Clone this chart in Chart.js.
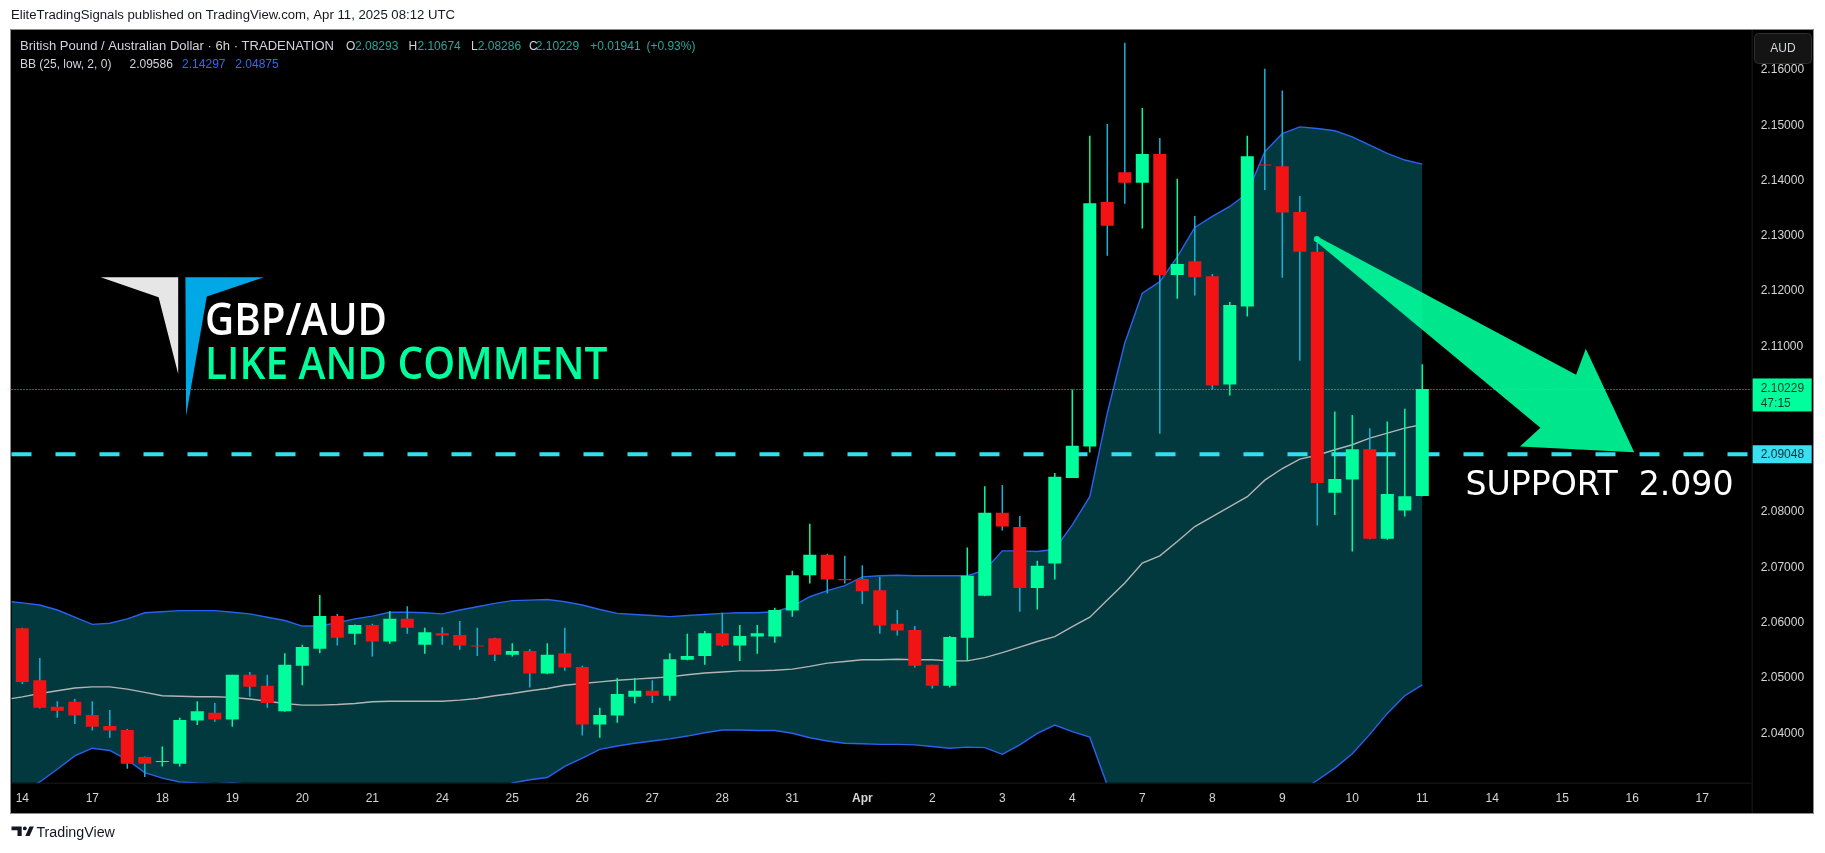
<!DOCTYPE html>
<html>
<head>
<meta charset="utf-8">
<script src="https://cdn.jsdelivr.net/npm/chart.js@4.4.1/dist/chart.umd.min.js"></script>
<style>
  html, body { margin: 0; padding: 0; background: #fff; overflow: hidden; }
</style>
</head>
<body>
<canvas id="gbpaud" width="1825" height="853"></canvas>
<script>
// GBP/AUD 6h candles, index 0 = first bar of the 14th
const opens = [
  2.0590, 2.0496, 2.0448, 2.0457, 2.0433, 2.0413, 2.0406, 2.0357, 2.0348, 2.0345,
  2.0423, 2.0437, 2.0425, 2.0506, 2.0486, 2.0440, 2.0522, 2.0553, 2.0612, 2.0580,
  2.0596, 2.0566, 2.0607, 2.0560, 2.0581, 2.0578, 2.0559, 2.0572, 2.0542, 2.0549,
  2.0508, 2.0545, 2.0520, 2.0416, 2.0432, 2.0466, 2.0477, 2.0468, 2.0533, 2.0540,
  2.0581, 2.0559, 2.0575, 2.0575, 2.0622, 2.0686, 2.0723, 2.0679, 2.0679, 2.0659,
  2.0598, 2.0587, 2.0524, 2.0486, 2.0573, 2.0649, 2.0799, 2.0773, 2.0663, 2.0707,
  2.0862, 2.0919, 2.1361, 2.1415, 2.1396, 2.1448, 2.1229, 2.1254, 2.1227, 2.1031,
  2.1172, 2.1429, 2.1426, 2.1343, 2.1271, 2.0835, 2.0859, 2.0914, 2.0752, 2.0803,
  2.08293
];
const highs = [
  2.0591, 2.0536, 2.0458, 2.0462, 2.0458, 2.0442, 2.0408, 2.0358, 2.0376, 2.0428,
  2.0458, 2.0455, 2.0506, 2.0511, 2.0506, 2.0545, 2.0560, 2.0650, 2.0616, 2.0597,
  2.0598, 2.0621, 2.0630, 2.0591, 2.0592, 2.0603, 2.0591, 2.0573, 2.0563, 2.0552,
  2.0563, 2.0591, 2.0522, 2.0446, 2.0500, 2.0500, 2.0496, 2.0545, 2.0580, 2.0585,
  2.0618, 2.0596, 2.0596, 2.0627, 2.0694, 2.0779, 2.0725, 2.0721, 2.0704, 2.0683,
  2.0623, 2.0594, 2.0524, 2.0576, 2.0736, 2.0847, 2.0849, 2.0793, 2.0712, 2.0871,
  2.1022, 2.1481, 2.1502, 2.1649, 2.1531, 2.1477, 2.1403, 2.1336, 2.1231, 2.1180,
  2.1481, 2.1602, 2.1563, 2.1372, 2.1298, 2.0982, 2.0976, 2.0952, 2.0964, 2.0987,
  2.10674
];
const lows = [
  2.0489, 2.0445, 2.0428, 2.0417, 2.0405, 2.0392, 2.0336, 2.0321, 2.0340, 2.0340,
  2.0415, 2.0421, 2.0412, 2.0466, 2.0446, 2.0439, 2.0487, 2.0545, 2.0559, 2.0560,
  2.0539, 2.0562, 2.0580, 2.0544, 2.0560, 2.0551, 2.0540, 2.0531, 2.0539, 2.0483,
  2.0507, 2.0513, 2.0396, 2.0392, 2.0419, 2.0454, 2.0455, 2.0459, 2.0532, 2.0524,
  2.0557, 2.0531, 2.0544, 2.0564, 2.0611, 2.0671, 2.0653, 2.0671, 2.0634, 2.0580,
  2.0577, 2.0519, 2.0481, 2.0483, 2.0531, 2.0648, 2.0767, 2.0620, 2.0624, 2.0678,
  2.0862, 2.0908, 2.1264, 2.1358, 2.1313, 2.0942, 2.1186, 2.1192, 2.1022, 2.1011,
  2.1154, 2.1383, 2.1224, 2.1074, 2.0776, 2.0795, 2.0729, 2.0751, 2.0750, 2.0792,
  2.08286
];
const closes = [
  2.0493, 2.0446, 2.0441, 2.0432, 2.0412, 2.0405, 2.0345, 2.0345, 2.0349, 2.0424,
  2.0440, 2.0425, 2.0506, 2.0484, 2.0455, 2.0524, 2.0556, 2.0612, 2.0573, 2.0596,
  2.0566, 2.0607, 2.0591, 2.0583, 2.0577, 2.0559, 2.0557, 2.0542, 2.0549, 2.0508,
  2.0542, 2.0519, 2.0416, 2.0433, 2.0471, 2.0477, 2.0468, 2.0534, 2.0540, 2.0581,
  2.0559, 2.0576, 2.0581, 2.0623, 2.0686, 2.0723, 2.0678, 2.0677, 2.0657, 2.0595,
  2.0586, 2.0522, 2.0486, 2.0574, 2.0685, 2.0799, 2.0774, 2.0663, 2.0703, 2.0864,
  2.0920, 2.1359, 2.1318, 2.1396, 2.1448, 2.1229, 2.1249, 2.1225, 2.1029, 2.1175,
  2.1444, 2.1427, 2.1342, 2.1271, 2.0853, 2.0860, 2.0914, 2.0752, 2.0833, 2.08288,
  2.10229
];

// BB (25, low, 2, 0), starting one bar before index 0
const bandStart = -1;
const bbUpper = [2.0639,
  2.0636, 2.0632, 2.0623, 2.0610, 2.0597, 2.0599, 2.0607, 2.0618, 2.0620, 2.0622,
  2.0622, 2.0622, 2.0619, 2.0616, 2.0610, 2.0604, 2.0594, 2.0594, 2.0600, 2.0607,
  2.0612, 2.0619, 2.0619, 2.0618, 2.0616, 2.0623, 2.0629, 2.0635, 2.0640, 2.0641,
  2.0642, 2.0638, 2.0632, 2.0624, 2.0617, 2.0615, 2.0613, 2.0611, 2.0613, 2.0615,
  2.0617, 2.0618, 2.0618, 2.0620, 2.0629, 2.0647, 2.0658, 2.0667, 2.0683, 2.0685,
  2.0686, 2.0685, 2.0685, 2.0685, 2.0685, 2.0695, 2.0730, 2.0730, 2.0729, 2.0733,
  2.0777, 2.0828, 2.0979, 2.1106, 2.1196, 2.1217, 2.1262, 2.1315, 2.1335, 2.1353,
  2.1377, 2.1452, 2.1485, 2.1497, 2.1494, 2.1490, 2.1479, 2.1464, 2.1449, 2.1437,
  2.14297];
const bbMid = [2.0461,
  2.0466, 2.0472, 2.0477, 2.0482, 2.0484, 2.0484, 2.0480, 2.0474, 2.0468, 2.0467,
  2.0466, 2.0466, 2.0465, 2.0462, 2.0458, 2.0454, 2.0451, 2.0451, 2.0452, 2.0454,
  2.0457, 2.0458, 2.0458, 2.0458, 2.0458, 2.0460, 2.0463, 2.0468, 2.0472, 2.0477,
  2.0481, 2.0487, 2.0490, 2.0493, 2.0496, 2.0498, 2.0500, 2.0502, 2.0506, 2.0509,
  2.0511, 2.0513, 2.0513, 2.0514, 2.0516, 2.0521, 2.0527, 2.0530, 2.0533, 2.0533,
  2.0534, 2.0533, 2.0533, 2.0531, 2.0531, 2.0537, 2.0546, 2.0556, 2.0566, 2.0575,
  2.0593, 2.0610, 2.0641, 2.0672, 2.0708, 2.0721, 2.0747, 2.0774, 2.0792, 2.0810,
  2.0828, 2.0858, 2.0879, 2.0896, 2.0903, 2.0913, 2.0922, 2.0934, 2.0943, 2.0952,
  2.09586];
const bbLower = [2.0283,
  2.0296, 2.0312, 2.0335, 2.0359, 2.0373, 2.0369, 2.0352, 2.0329, 2.0319, 2.0312,
  2.0310, 2.0309, 2.0310, 2.0308, 2.0306, 2.0304, 2.0306, 2.0307, 2.0304, 2.0301,
  2.0302, 2.0297, 2.0297, 2.0298, 2.0300, 2.0297, 2.0297, 2.0301, 2.0310, 2.0316,
  2.0320, 2.0340, 2.0355, 2.0371, 2.0377, 2.0382, 2.0386, 2.0390, 2.0395, 2.0401,
  2.0406, 2.0406, 2.0405, 2.0405, 2.0400, 2.0392, 2.0386, 2.0382, 2.0381, 2.0380,
  2.0380, 2.0379, 2.0376, 2.0373, 2.0375, 2.0374, 2.0362, 2.0379, 2.0400, 2.0415,
  2.0403, 2.0393, 2.0306, 2.0238, 2.0220, 2.0225, 2.0232, 2.0233, 2.0249, 2.0267,
  2.0279, 2.0264, 2.0273, 2.0295, 2.0315, 2.0337, 2.0363, 2.0398, 2.0436, 2.0468,
  2.04875];

// one label every 4 bars (one trading day)
const dayLabels = ['14', '17', '18', '19', '20', '21', '24', '25', '26', '27', '28', '31', 'Apr',
                   '2', '3', '4', '7', '8', '9', '10', '11', '14', '15', '16', '17'];
const priceTicks = [2.04, 2.05, 2.06, 2.07, 2.08, 2.09, 2.10, 2.11, 2.12, 2.13, 2.14, 2.15, 2.16];
const supportLevel = 2.09048;
const arrowFrom = [73.97, 2.12942];
const arrowTo = [92.11, 2.09083];

const upColor = '#00ff9c';
const downColor = '#f21414';
const downWick = '#1bb1d6';
const FONT = "'Liberation Sans', Arial, sans-serif";

const last = closes.length - 1;
const idx = closes.map((_, i) => i);
const bandPts = arr => arr.map((v, k) => ({ x: bandStart + k, y: v }));

function fitText(c, text, x, y, width) {
  const w = c.measureText(text).width;
  c.save();
  c.translate(x, y);
  c.scale(width / w, 1);
  c.fillText(text, 0, 0);
  c.restore();
}

const overlay = {
  id: 'overlay',
  beforeDraw(chart) {
    const c = chart.ctx, a = chart.chartArea;
    c.save();
    c.fillStyle = '#ffffff';
    c.fillRect(0, 0, chart.width, chart.height);
    c.fillStyle = '#000000';
    c.fillRect(11, 30, 1802, 783);
    c.strokeStyle = '#1b1b1b';
    c.lineWidth = 1;
    c.beginPath();
    c.moveTo(a.right + 0.5, 30); c.lineTo(a.right + 0.5, 813);
    c.moveTo(11, a.bottom + 0.5); c.lineTo(a.right, a.bottom + 0.5);
    c.stroke();
    c.strokeStyle = '#8c8c8c';
    c.strokeRect(10.5, 29.5, 1803, 784);
    c.restore();
  },
  beforeDatasetDraw(chart, args) {
    if (args.index !== 1) return;
    // level lines go above the band fill but under the candles
    const c = chart.ctx, a = chart.chartArea, y = chart.scales.y;
    c.save();
    const ys = y.getPixelForValue(supportLevel);
    c.strokeStyle = '#33def0';
    c.lineWidth = 4;
    c.setLineDash([20, 24]);
    c.beginPath(); c.moveTo(a.left, ys); c.lineTo(a.right, ys); c.stroke();
    const yl = Math.round(y.getPixelForValue(closes[last])) + 0.5;
    c.strokeStyle = upColor;
    c.lineWidth = 1;
    c.setLineDash([1, 2]);
    c.beginPath(); c.moveTo(a.left, yl); c.lineTo(a.right, yl); c.stroke();
    c.restore();
  },
  afterDatasetsDraw(chart) {
    const c = chart.ctx, xs = chart.scales.x, ys = chart.scales.y;
    c.save();
    // arrow drawing
    const tx = xs.getPixelForValue(arrowFrom[0]), ty = ys.getPixelForValue(arrowFrom[1]);
    const hx = xs.getPixelForValue(arrowTo[0]), hy = ys.getPixelForValue(arrowTo[1]);
    const L = Math.hypot(hx - tx, hy - ty), ux = (hx - tx) / L, uy = (hy - ty) / L;
    const P = (al, p) => [tx + ux * al - uy * p, ty + uy * al + ux * p];
    const pts = [P(0, -2.5), P(L - 91.5, -32), P(L - 98, -59), P(L, 0), P(L - 98, 59), P(L - 91.5, 32), P(0, 2.5)];
    c.globalAlpha = 0.9;
    c.fillStyle = upColor;
    c.beginPath();
    pts.forEach((p, k) => k ? c.lineTo(p[0], p[1]) : c.moveTo(p[0], p[1]));
    c.closePath();
    c.fill();
    c.beginPath(); c.arc(tx, ty, 3, 0, Math.PI * 2); c.fill();
    c.globalAlpha = 1;

    c.fillStyle = '#ffffff';
    c.font = "34px 'DejaVu Sans'";
    c.textBaseline = 'alphabetic';
    fitText(c, 'SUPPORT  2.090', 1465.5, 495, 268);

    // logo
    c.fillStyle = '#e6e6e6';
    c.beginPath();
    c.moveTo(100.7, 277.3); c.lineTo(178.2, 277.3); c.lineTo(178.2, 374); c.lineTo(158.6, 297.3);
    c.closePath(); c.fill();
    c.fillStyle = '#00a8e6';
    c.beginPath();
    c.moveTo(185.4, 277.3); c.lineTo(263.9, 277.3); c.lineTo(206.8, 296.5); c.lineTo(186.1, 416);
    c.closePath(); c.fill();

    c.font = "600 46px 'Open Sans', 'Noto Sans', sans-serif";
    c.fillStyle = '#ffffff';
    fitText(c, 'GBP/AUD', 205, 334.5, 182);
    c.fillStyle = upColor;
    fitText(c, 'LIKE AND COMMENT', 205, 379, 402.5);
    c.restore();
  },
  afterDraw(chart) {
    const c = chart.ctx, ys = chart.scales.y, a = chart.chartArea;
    c.save();
    c.textBaseline = 'middle';
    c.font = '12px ' + FONT;

    // price tags on the axis
    const yl = ys.getPixelForValue(closes[last]);
    c.fillStyle = upColor;
    c.fillRect(a.right + 1, yl - 10.5, 59, 33);
    c.fillStyle = '#0d3b2e';
    c.fillText(closes[last].toFixed(5), 1760.7, yl);
    c.fillText('47:15', 1760.7, yl + 15);
    const ysup = ys.getPixelForValue(supportLevel);
    c.fillStyle = '#38e0f2';
    c.fillRect(a.right + 1, ysup - 9, 59, 18);
    c.fillStyle = '#0b2f36';
    c.fillText(supportLevel.toFixed(5), 1760.7, ysup);

    // currency button
    c.fillStyle = '#141414';
    c.strokeStyle = '#2e2e2e';
    c.beginPath();
    c.roundRect(1754.5, 33.5, 57, 30, 4);
    c.fill(); c.stroke();
    c.fillStyle = '#d1d4dc';
    c.textAlign = 'center';
    c.fillText('AUD', 1783, 48.5);
    c.textAlign = 'left';

    // legend
    const txt = '#d1d4dc', val = '#26a69a', blue = '#2f6bf2';
    c.fillStyle = txt;
    fitText(c, 'British Pound / Australian Dollar · 6h · TRADENATION', 20, 46.5, 314);
    const chg = closes[last] - closes[last - 1];
    const seg1 = [
      ['O', 346, txt], [opens[last].toFixed(5), 355, val],
      ['H', 408.5, txt], [highs[last].toFixed(5), 417.4, val],
      ['L', 471, txt], [lows[last].toFixed(5), 477.7, val],
      ['C', 529, txt], [closes[last].toFixed(5), 535.7, val],
      ['+' + chg.toFixed(5), 590.2, val],
      ['(+' + (chg / closes[last - 1] * 100).toFixed(2) + '%)', 646.4, val]
    ];
    seg1.forEach(s => { c.fillStyle = s[2]; c.fillText(s[0], s[1], 46.5); });
    const n = bbUpper.length - 1;
    const seg2 = [
      ['BB (25, low, 2, 0)', 20, txt], [bbMid[n].toFixed(5), 129.5, txt],
      [bbUpper[n].toFixed(5), 182.1, blue], [bbLower[n].toFixed(5), 235.3, blue]
    ];
    seg2.forEach(s => { c.fillStyle = s[2]; c.fillText(s[0], s[1], 65); });

    // header and footer on the white frame
    c.fillStyle = '#131722';
    c.font = '12.5px ' + FONT;
    fitText(c, 'EliteTradingSignals published on TradingView.com, Apr 11, 2025 08:12 UTC', 11, 16, 444);
    c.font = '14px ' + FONT;
    fitText(c, 'TradingView', 36.4, 833, 78.5);
    c.beginPath();
    c.rect(11.5, 826.5, 10, 3.8);
    c.rect(17.5, 826.5, 4.2, 9.5);
    c.fill();
    c.beginPath(); c.arc(24.8, 828.4, 1.9, 0, Math.PI * 2); c.fill();
    c.beginPath();
    c.moveTo(29.5, 826.5); c.lineTo(33.8, 826.5); c.lineTo(29.6, 836); c.lineTo(25.3, 836);
    c.closePath(); c.fill();
    c.restore();
  }
};

new Chart(document.getElementById('gbpaud'), {
  data: {
    datasets: [
      {
        type: 'bar', label: 'body',
        data: idx.map(i => ({ x: i, y: [opens[i], closes[i]] })),
        backgroundColor: idx.map(i => closes[i] >= opens[i] ? upColor : downColor),
        barThickness: 13, grouped: false, minBarLength: 1, inflateAmount: 0,
        borderWidth: 0, order: 0
      },
      {
        type: 'bar', label: 'wick',
        data: idx.map(i => ({ x: i, y: [lows[i], highs[i]] })),
        backgroundColor: idx.map(i => closes[i] >= opens[i] ? upColor : downWick),
        barThickness: 1.5, grouped: false, inflateAmount: 0,
        borderWidth: 0, order: 1
      },
      {
        type: 'line', label: 'basis', data: bandPts(bbMid),
        borderColor: '#b4b4b4', borderWidth: 1.4, pointRadius: 0, tension: 0, order: 2
      },
      {
        type: 'line', label: 'upper', data: bandPts(bbUpper),
        borderColor: '#2a62f0', borderWidth: 1.4, pointRadius: 0, tension: 0,
        fill: '+1', backgroundColor: '#02393f', order: 4
      },
      {
        type: 'line', label: 'lower', data: bandPts(bbLower),
        borderColor: '#2a62f0', borderWidth: 1.4, pointRadius: 0, tension: 0, order: 3
      }
    ]
  },
  options: {
    responsive: false,
    animation: false,
    events: [],
    layout: { padding: { left: 11.5, top: 30, right: 12, bottom: 40 } },
    plugins: {
      legend: { display: false },
      tooltip: { enabled: false }
    },
    scales: {
      x: {
        type: 'linear',
        offset: false,
        min: -0.6171, max: 98.823,
        grid: { display: false, drawTicks: false, offset: false },
        border: { display: false },
        afterBuildTicks: s => { s.ticks = dayLabels.map((_, k) => ({ value: k * 4 })); },
        afterFit: s => { s.height = 30.3; },
        ticks: {
          autoSkip: false, maxRotation: 0, padding: 8.5, color: '#d6d6d6',
          font: ctx => ({ family: FONT, size: 12,
            weight: ctx.tick && dayLabels[ctx.tick.value / 4] === 'Apr' ? 'bold' : 'normal' }),
          callback: v => dayLabels[v / 4]
        }
      },
      y: {
        type: 'linear',
        position: 'right',
        min: 2.031064, max: 2.167225,
        grid: { display: false, drawTicks: false },
        border: { display: false },
        afterBuildTicks: s => { s.ticks = priceTicks.map(v => ({ value: v })); },
        afterFit: s => { s.width = 61.3; },
        ticks: {
          padding: 9, color: '#d6d6d6',
          font: { family: FONT, size: 12 },
          callback: v => v.toFixed(5)
        }
      }
    }
  },
  plugins: [overlay]
});
</script>
</body>
</html>
